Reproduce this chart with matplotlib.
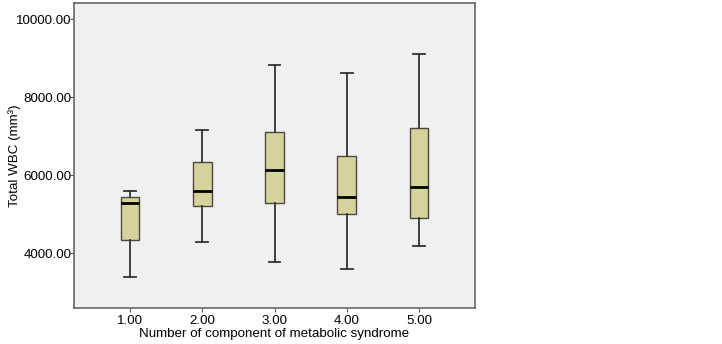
import matplotlib
matplotlib.use("Agg")
import matplotlib.pyplot as plt

plt.rcParams['font.family'] = ['Liberation Sans', 'DejaVu Sans']

categories = ["1.00", "2.00", "3.00", "4.00", "5.00"]
whislo = [3400, 4300, 3780, 3600, 4200]
q1 = [4340, 5200, 5300, 5000, 4900]
med = [5300, 5600, 6125, 5450, 5700]
q3 = [5440, 6350, 7110, 6500, 7205]
whishi = [5600, 7150, 8820, 8610, 9110]
yticks = [4000, 6000, 8000, 10000]

stats = []
for i, c in enumerate(categories):
    stats.append(dict(label=c, whislo=whislo[i], q1=q1[i], med=med[i],
                      q3=q3[i], whishi=whishi[i], fliers=[]))

fig = plt.figure(figsize=(7.22, 3.44), dpi=100)
ax = fig.add_axes([74/722, 1-308/344, (475-74)/722, (308-3)/344])
ax.set_facecolor('#f0f0f0')

ax.bxp(stats, positions=range(1, 6), widths=0.26, patch_artist=True,
       showfliers=False,
       boxprops=dict(facecolor='#d5d29c', edgecolor='#4a4a40', linewidth=1.0),
       medianprops=dict(color='black', linewidth=2.0),
       whiskerprops=dict(color='#333333', linewidth=1.3),
       capprops=dict(color='#333333', linewidth=1.3),
       capwidths=0.16)

ax.set_xlim(0.225, 5.775)
ax.set_ylim(2600, 10410)
ax.set_xticks(range(1, 6))
ax.set_xticklabels(categories)
ax.set_yticks(yticks)
ax.set_yticklabels([f"{v:.2f}" for v in yticks])
ax.tick_params(axis='both', labelsize=9.6, length=3, color='#555555')
ax.tick_params(axis='y', pad=-1)
ax.tick_params(axis='x', pad=2)
for s in ax.spines.values():
    s.set_color('#666666')
    s.set_linewidth(1.2)

ax.set_xlabel("Number of component of metabolic syndrome", fontsize=9.6, labelpad=1)
ax.set_ylabel("Total WBC (mm³)", fontsize=9.6)
ax.yaxis.set_label_coords(-0.133, 0.5)

fig.savefig("out.png", dpi=100)
